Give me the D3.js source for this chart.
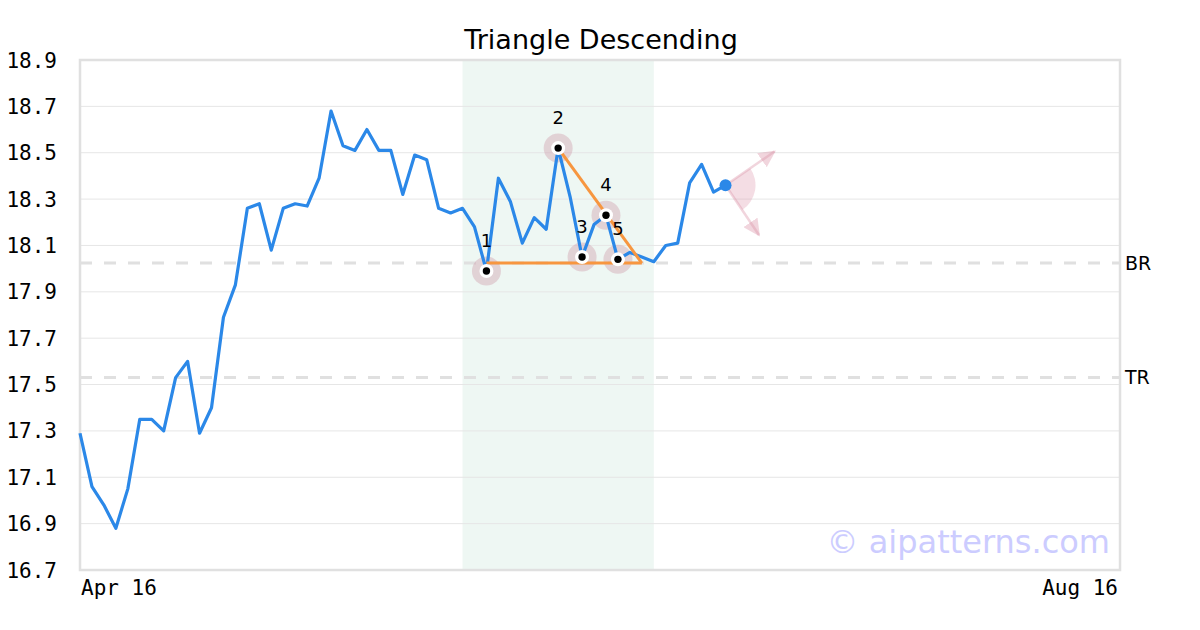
<!DOCTYPE html>
<html><head><meta charset="utf-8">
<script src="https://cdn.jsdelivr.net/npm/d3@7/dist/d3.min.js"></script>
<style>body{margin:0;background:#fff}svg{display:block}</style>
</head><body><svg id="c" width="1200" height="630"></svg>
<script>
const prices = [17.29,17.06,16.98,16.88,17.05,17.35,17.35,17.30,17.53,17.60,
17.29,17.40,17.79,17.93,18.26,18.28,18.08,18.26,18.28,18.27,
18.39,18.68,18.53,18.51,18.60,18.51,18.51,18.32,18.49,18.47,
18.26,18.24,18.26,18.18,17.99,18.39,18.29,18.11,18.22,18.17,
18.52,18.31,18.05,18.19,18.23,18.04,18.07,18.05,18.03,18.10,
18.11,18.37,18.45,18.33,18.36];
const patternIdx = [34,40,42,44,45];
const patternLabels = ["1","2","3","4","5"];
const zoneRange = [32,48];
const levels = [{name:"BR", value:18.024},{name:"TR", value:17.53}];
const supportLine = [[34,18.024],[47,18.024]];
const resistLine = [[40,18.52],[47,18.024]];
const arrowEnds = [[58.1,18.505],[56.8,18.145]];
const yTicks = [16.7,16.9,17.1,17.3,17.5,17.7,17.9,18.1,18.3,18.5,18.7,18.9];
const xTickLabels = [{i:0,t:"Apr 16",a:"start"},{i:87,t:"Aug 16",a:"end"}];

const svg = d3.select("#c");
const L=80,R=1120,T=60,B=570;
const x = d3.scaleLinear().domain([0,87]).range([L,R]);
const y = d3.scaleLinear().domain([16.7,18.9]).range([B,T]);

svg.append("text").attr("x",601).attr("y",49).attr("text-anchor","middle")
  .attr("font-family","DejaVu Sans").attr("font-size",27).attr("fill","#000").text("Triangle Descending");

// zone
svg.append("rect").attr("x",x(zoneRange[0])).attr("y",T).attr("width",x(zoneRange[1])-x(zoneRange[0])).attr("height",B-T).attr("fill","#eef7f3");

// grid
svg.append("g").selectAll("line").data(yTicks.slice(1,-1)).join("line")
  .attr("x1",L).attr("x2",R).attr("y1",d=>y(d)).attr("y2",d=>y(d)).attr("stroke","#e6e6e6").attr("stroke-width",1);

// level lines
svg.append("g").selectAll("line").data(levels).join("line")
  .attr("x1",L).attr("x2",R).attr("y1",d=>y(d.value)).attr("y2",d=>y(d.value))
  .attr("stroke","#e0e0e0").attr("stroke-width",3).attr("stroke-dasharray","12,12");
svg.append("g").selectAll("text").data(levels).join("text")
  .attr("x",1125).attr("y",d=>y(d.value)).attr("dy","0.35em")
  .attr("font-family","DejaVu Sans").attr("font-size",19).attr("fill","#000").text(d=>d.name);

// frame
svg.append("rect").attr("x",L).attr("y",T).attr("width",R-L).attr("height",B-T).attr("fill","none").attr("stroke","#e0e0e0").attr("stroke-width",2.5);

// y labels
svg.append("g").selectAll("text").data(yTicks).join("text")
  .attr("x",57).attr("y",d=>y(d)).attr("dy","0.36em").attr("text-anchor","end")
  .attr("font-family","DejaVu Sans Mono").attr("font-size",21).attr("fill","#000").text(d=>d.toFixed(1));
// x labels
svg.append("g").selectAll("text").data(xTickLabels).join("text")
  .attr("x",d=>d.a==="start"?x(d.i)+1:x(d.i)-2).attr("y",595).attr("text-anchor",d=>d.a)
  .attr("font-family","DejaVu Sans Mono").attr("font-size",21).attr("fill","#000").text(d=>d.t);

// watermark
svg.append("text").attr("x",1110).attr("y",553).attr("text-anchor","end")
  .attr("font-family","DejaVu Sans").attr("font-size",32).attr("fill","#ccccff").text("© aipatterns.com");

// halos
const pts = patternIdx.map((i,k)=>({i,v:prices[i],l:patternLabels[k]}));
svg.append("g").selectAll("circle").data(pts).join("circle")
  .attr("cx",d=>x(d.i)).attr("cy",d=>y(d.v)).attr("r",14.5).attr("fill","rgba(205,150,165,0.38)");

// price line
const line = d3.line().x((d,i)=>x(i)).y(d=>y(d));
svg.append("path").datum(prices).attr("d",line).attr("fill","none").attr("stroke","#2b88e8").attr("stroke-width",3.2).attr("stroke-linejoin","round");

// pattern lines
const pl = d3.line().x(d=>x(d[0])).y(d=>y(d[1]));
[supportLine,resistLine].forEach(s=>svg.append("path").attr("d",pl(s)).attr("fill","none").attr("stroke","#f7963f").attr("stroke-width",3));

// pattern points
svg.append("g").selectAll("circle").data(pts).join("circle")
  .attr("cx",d=>x(d.i)).attr("cy",d=>y(d.v)).attr("r",7).attr("fill","#fff");
svg.append("g").selectAll("circle").data(pts).join("circle")
  .attr("cx",d=>x(d.i)).attr("cy",d=>y(d.v)).attr("r",3.7).attr("fill","#000");
svg.append("g").selectAll("text").data(pts).join("text")
  .attr("x",d=>x(d.i)).attr("y",d=>y(d.v)-24).attr("text-anchor","middle")
  .attr("font-family","DejaVu Sans").attr("font-size",18).attr("fill","#000").text(d=>d.l);

// projection wedge & arrows
const li = prices.length-1;
const cx0 = x(li), cy0 = y(prices[li]);
const angs = arrowEnds.map(e=>Math.atan2(x(e[0])-cx0, -(y(e[1])-cy0)));
const arc = d3.arc().innerRadius(0).outerRadius(30).startAngle(angs[0]).endAngle(angs[1]);
svg.append("path").attr("d",arc()).attr("transform",`translate(${cx0},${cy0})`).attr("fill","rgba(220,150,170,0.32)");
const defs = svg.append("defs");
defs.append("marker").attr("id","ah").attr("viewBox","0 0 10 10").attr("refX",9).attr("refY",5)
  .attr("markerWidth",17).attr("markerHeight",17).attr("markerUnits","userSpaceOnUse").attr("orient","auto")
  .append("path").attr("d","M0,0L10,5L0,10Z").attr("fill","rgba(220,150,170,0.4)");
svg.append("g").selectAll("line").data(arrowEnds).join("line")
  .attr("x1",cx0).attr("y1",cy0).attr("x2",d=>x(d[0])).attr("y2",d=>y(d[1]))
  .attr("stroke","rgba(220,150,170,0.4)").attr("stroke-width",2.5).attr("marker-end","url(#ah)");

svg.append("circle").attr("cx",cx0).attr("cy",cy0).attr("r",6).attr("fill","#2b88e8");
</script></body></html>
